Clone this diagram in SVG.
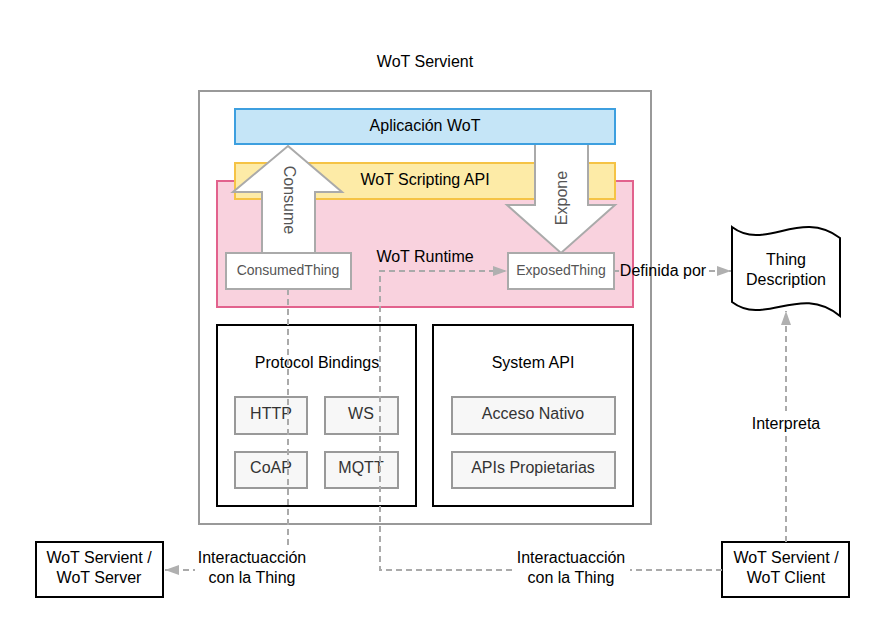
<svg xmlns="http://www.w3.org/2000/svg" width="885" height="631" viewBox="0 0 885 631">
<defs>
<style>
text{font-family:"Liberation Sans",Arial,sans-serif;font-size:16px;fill:#000;text-anchor:middle;dominant-baseline:central}
.small{font-size:14px;fill:#555}
.gray{fill:#555}
.dark{fill:#333}
.blk{fill:#fff;stroke:#000;stroke-width:2}
.inner{fill:#f7f7f7;stroke:#999;stroke-width:2}
.thing{fill:#fff;stroke:#aaa;stroke-width:2}
.dash{fill:none;stroke:#aaa;stroke-width:2;stroke-dasharray:6 4}
.bg{fill:#fff}
</style>
<marker id="ah" viewBox="0 0 14 10" refX="14" refY="5" markerWidth="14" markerHeight="10" markerUnits="userSpaceOnUse" orient="auto">
<path d="M0,0 L14,5 L0,10 Z" fill="#b0b0b0"/>
</marker>
</defs>
<rect width="885" height="631" fill="#fff"/>
<g id="title"><text x="425" y="61">WoT Servient</text></g>
<g id="servient"><rect x="199" y="91" width="452" height="433" fill="#fff" stroke="#999" stroke-width="2"/></g>
<g id="runtime"><rect x="217" y="181" width="416" height="126" fill="#f9d2de" stroke="#e2628d" stroke-width="2"/><text x="425" y="256">WoT Runtime</text></g>
<g id="scripting"><rect x="235" y="163" width="380" height="36" fill="#fdeba7" stroke="#f5c345" stroke-width="2"/><text x="425" y="179">WoT Scripting API</text></g>
<g id="consume"><polygon points="288,146 342,192 315,192 315,253 262,253 262,192 233,192" fill="#fff" stroke="#aaa" stroke-width="2"/><text class="gray" transform="translate(289,200) rotate(90)">Consume</text></g>
<g id="expone"><polygon points="535,144 588,144 588,205 615,205 561,253 507,205 535,205" fill="#fff" stroke="#aaa" stroke-width="2"/><text class="gray" transform="translate(561,198) rotate(-90)">Expone</text></g>
<g id="aplicacion"><rect x="235" y="109" width="380" height="35" fill="#c5e5f7" stroke="#3d9fdf" stroke-width="2"/><text x="425" y="125">Aplicación WoT</text></g>
<g id="consumedthing"><rect class="thing" x="226" y="253" width="125" height="36"/><text class="small" x="288" y="270">ConsumedThing</text></g>
<g id="exposedthing"><rect class="thing" x="508" y="253" width="106" height="36"/><text class="small" x="561" y="270">ExposedThing</text></g>
<g id="protocol"><rect class="blk" x="217" y="325" width="199" height="181"/><text x="317" y="362">Protocol Bindings</text></g>
<g id="http"><rect class="inner" x="235" y="397" width="72" height="37"/><text class="dark" x="271" y="413">HTTP</text></g>
<g id="ws"><rect class="inner" x="325" y="397" width="73" height="37"/><text class="dark" x="361" y="413">WS</text></g>
<g id="coap"><rect class="inner" x="235" y="452" width="72" height="36"/><text class="dark" x="271" y="467">CoAP</text></g>
<g id="mqtt"><rect class="inner" x="325" y="452" width="73" height="36"/><text class="dark" x="361" y="467">MQTT</text></g>
<g id="system"><rect class="blk" x="433" y="325" width="200" height="181"/><text x="533" y="362">System API</text></g>
<g id="nativo"><rect class="inner" x="452" y="397" width="163" height="37"/><text class="dark" x="533" y="413">Acceso Nativo</text></g>
<g id="propietarias"><rect class="inner" x="452" y="452" width="163" height="36"/><text class="dark" x="533" y="467">APIs Propietarias</text></g>
<g id="thingdescription"><path d="M732,227 C765,252 800,208 840,238 L840,316 C800,283 765,327 732,302 Z" fill="#fff" stroke="#000" stroke-width="2"/><text x="786" y="259">Thing</text><text x="786" y="279">Description</text></g>
<g id="server"><rect class="blk" x="36" y="542" width="127" height="55"/><text x="99" y="557">WoT Servient /</text><text x="99" y="577">WoT Server</text></g>
<g id="client"><rect class="blk" x="722" y="542" width="127" height="55"/><text x="786" y="557">WoT Servient /</text><text x="786" y="577">WoT Client</text></g>
<g id="connectors">
<path class="dash" d="M288,289 L288,570 L165,570" marker-end="url(#ah)"/>
<path class="dash" d="M722,570 L380,570 L380,271 L507,271" marker-end="url(#ah)"/>
<path class="dash" d="M614,271 L619,271"/>
<path class="dash" d="M709,271 L731,271" marker-end="url(#ah)"/>
<path class="dash" d="M786,542 L786,311" marker-end="url(#ah)"/>
<rect class="bg" x="195" y="545" width="115" height="42"/>
<text x="252" y="557">Interactuacción</text><text x="252" y="577">con la Thing</text>
<rect class="bg" x="512" y="545" width="118" height="42"/>
<text x="571" y="557">Interactuacción</text><text x="571" y="577">con la Thing</text>
<text x="663" y="270">Definida por</text>
<rect class="bg" x="748" y="411" width="76" height="24"/>
<text x="786" y="423">Interpreta</text>
</g>
</svg>
